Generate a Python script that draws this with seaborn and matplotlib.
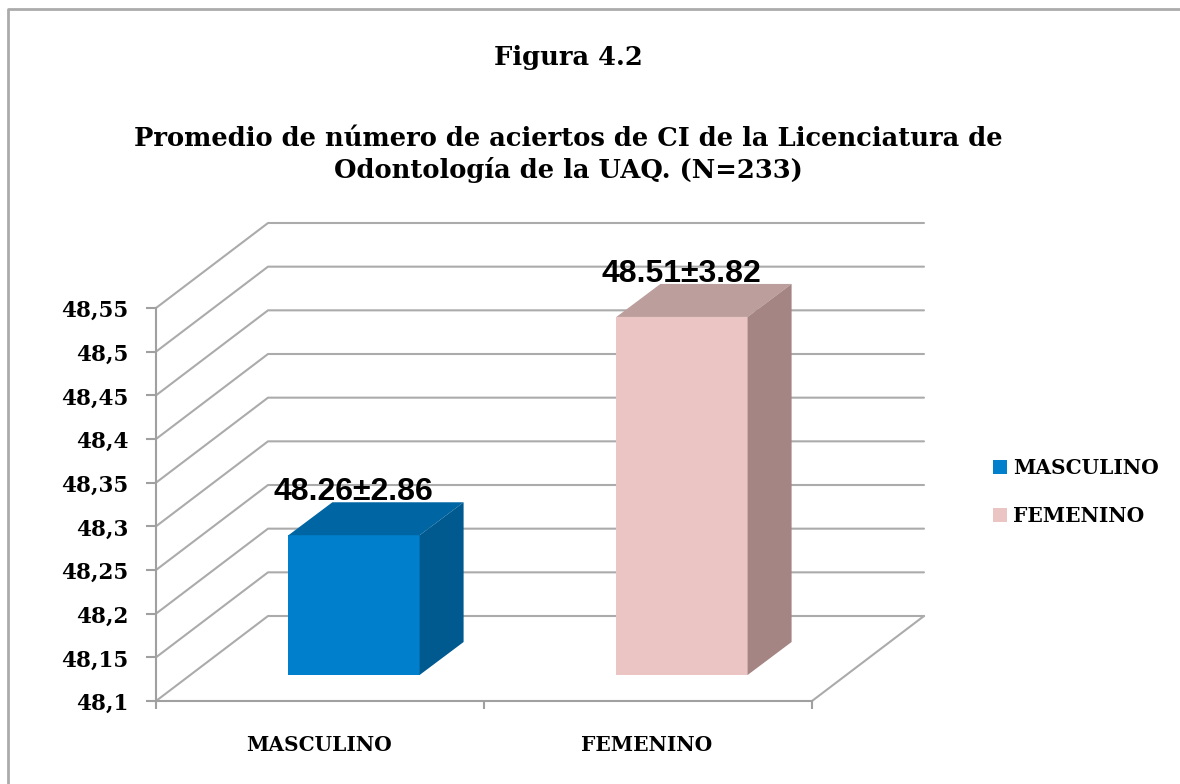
import matplotlib
matplotlib.use("Agg")
import matplotlib.pyplot as plt
from matplotlib.lines import Line2D
from matplotlib.patches import Polygon, Rectangle
from matplotlib.transforms import ScaledTranslation
import pandas as pd
import seaborn as sns

categories = ["MASCULINO", "FEMENINO"]
values = [48.26, 48.51]
labels = ["48.26±2.86", "48.51±3.82"]
front_colors = ["#0080CC", "#EBC5C3"]
top_colors = ["#0066A3", "#BC9E9C"]
side_colors = ["#005A8F", "#A48583"]
y_ticks = [48.1, 48.15, 48.2, 48.25, 48.3, 48.35, 48.4, 48.45, 48.5, 48.55]
y_labels = ["48,1", "48,15", "48,2", "48,25", "48,3", "48,35", "48,4", "48,45", "48,5", "48,55"]
title_top = "Figura 4.2"
title_main = "Promedio de número de aciertos de CI de la Licenciatura de\nOdontología de la UAQ. (N=233)"

W, H = 1180, 784
GRID = "#ABABAB"
AXIS = "#A0A0A0"
LABEL_SIZE = 14.5
TICK_SIZE = 15.5
TITLE_SIZE = 18.5

sns.set_theme(style="white")
plt.rcParams["font.family"] = ["DejaVu Serif"]

fig = plt.figure(figsize=(W / 100, H / 100), dpi=100)
fig.add_artist(Line2D([8 / W, 8 / W, 1], [0, 1 - 9 / H, 1 - 9 / H], transform=fig.transFigure,
                      color="#ABABAB", lw=2))
ax = fig.add_axes([156 / W, 1 - 701 / H, 656 / W, 393 / H])
ax.patch.set_alpha(0)

PX_X = 328.0
PX_Y = 393 / 0.45


def shifted(dx, dy):
    return ax.transData + ScaledTranslation(dx / 100, dy / 100, fig.dpi_scale_trans)


data = pd.DataFrame({"cat": categories, "val": values})
sns.barplot(data=data, x="cat", y="val", hue="cat", palette=front_colors, width=0.4,
            legend=False, ax=ax, saturation=1, zorder=5, linewidth=0)
ax.set_xlim(-0.5, 1.5)
ax.set_ylim(48.1, 48.55)

# floor and back wall gridlines
DX, DY = 112, 85
ddx, ddy = DX / PX_X, DY / PX_Y
for t in y_ticks:
    ax.plot([-0.5, -0.5 + ddx, 1.5 + ddx], [t, t + ddy, t + ddy], color=GRID, lw=1.5,
            clip_on=False, zorder=1)
ax.plot([1.5, 1.5 + ddx], [48.1, 48.1 + ddy], color=GRID, lw=1.5, clip_on=False, zorder=1)

# bars: shift the seaborn bars into the middle of the floor and add depth faces
FX, FY = 34, 26
BX, BY = 44, 33
base = 48.1
for bar, val, lab, tc, sc in zip(ax.patches, values, labels, top_colors, side_colors):
    x0 = bar.get_x()
    w = bar.get_width()
    bar.set_y(base)
    bar.set_height(val - base)
    tr = shifted(FX, FY)
    bar.set_transform(tr)
    bar.set_clip_on(False)
    bx, by = BX / PX_X, BY / PX_Y
    ax.add_patch(Polygon([(x0, val), (x0 + bx, val + by), (x0 + w + bx, val + by), (x0 + w, val)],
                         closed=True, fc=tc, ec="none", transform=tr, clip_on=False, zorder=6))
    ax.add_patch(Polygon([(x0 + w, base), (x0 + w + bx, base + by), (x0 + w + bx, val + by), (x0 + w, val)],
                         closed=True, fc=sc, ec="none", transform=tr, clip_on=False, zorder=6))
    ax.text(x0 + w / 2, val + by, lab, transform=shifted(FX - 1, FY + 10), ha="center", va="center",
            family="Liberation Sans", fontweight="bold", fontsize=23, color="black", zorder=8, clip_on=False)

ax.set_xticks([-0.5, 0.5, 1.5], ["", "", ""])
ax.set_xlabel("")
ax.set_ylabel("")
ax.set_yticks(y_ticks, y_labels, fontweight="bold", fontsize=TICK_SIZE, color="black", va="center")
ax.tick_params(axis="y", left=True, length=7, width=1.5, color=AXIS, pad=13)
ax.tick_params(axis="x", bottom=True, length=6, width=1.5, color=AXIS)
for tl in ax.get_yticklabels():
    tl.set_transform(tl.get_transform() + ScaledTranslation(0, -3 / 100, fig.dpi_scale_trans))
for s in ["top", "right"]:
    ax.spines[s].set_visible(False)
for s in ["left", "bottom"]:
    ax.spines[s].set_color(AXIS)
    ax.spines[s].set_linewidth(1.5)

for x, c in zip([0, 1], categories):
    ax.annotate(c, (x, 48.1), xytext=(-1, -44 * 0.72), textcoords="offset points", ha="center", va="center",
                fontweight="bold", fontsize=LABEL_SIZE, color="black")

fig.text(568 / W, 1 - 58 / H, title_top, ha="center", va="center", fontweight="bold", fontsize=TITLE_SIZE, color="black")
fig.text(568 / W, 1 - 154.5 / H, title_main, ha="center", va="center", fontweight="bold", fontsize=TITLE_SIZE,
         color="black", linespacing=1.33)

# legend
fs_px = LABEL_SIZE * 100 / 72
handles = [Rectangle((0, 0), 1, 1, fc=c, ec="none") for c in front_colors]
fig.legend(handles, categories, loc="center left", bbox_to_anchor=(993 / W, 1 - 492 / H), frameon=False,
           borderaxespad=0, borderpad=0,
           prop={"weight": "bold", "size": LABEL_SIZE}, handlelength=14 / fs_px, handleheight=14 / fs_px,
           handletextpad=6 / fs_px, labelspacing=(48 - fs_px) / fs_px, labelcolor="black")

fig.savefig("out.png", dpi=100)
